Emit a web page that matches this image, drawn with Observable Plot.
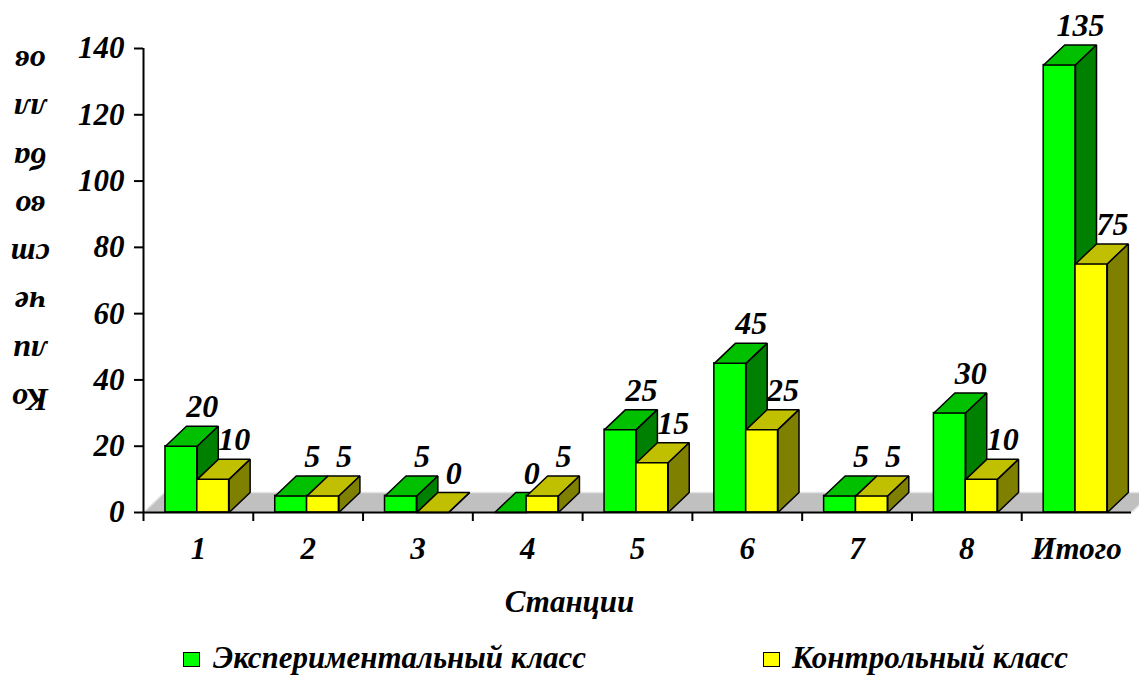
<!DOCTYPE html>
<html><head><meta charset="utf-8">
<script src="https://cdn.jsdelivr.net/npm/d3@7"></script>
<script src="https://cdn.jsdelivr.net/npm/@observablehq/plot@0.6"></script>
<style>
html,body{margin:0;padding:0;background:#fff;overflow:hidden;}
#wrap{position:relative;width:1139px;height:677px;font-family:"Liberation Serif","Times New Roman","DejaVu Serif",serif;font-weight:bold;font-style:italic;color:#000;}
#ylab div{position:absolute;left:6px;width:48px;height:30px;text-align:center;font-size:32px;line-height:30px;transform:rotate(180deg);}
#xtitle{position:absolute;left:0;top:580px;width:1139px;height:44px;line-height:44px;font-size:31px;text-align:center;}
.lg{position:absolute;top:642px;font-size:31px;line-height:32px;white-space:nowrap;}
.sw{position:absolute;top:652px;width:15px;height:13px;border:1.5px solid #000;}
</style></head>
<body><div id="wrap"><div id="chart"></div><div id="ylab"></div><div id="xtitle"></div><div id="legend"></div></div>
<script>
const categories = ["1","2","3","4","5","6","7","8","Итого"];
const experimental = [20,5,5,0,25,45,5,30,135];
const control = [10,5,0,5,15,25,5,10,75];
const seriesNames = ["Экспериментальный класс","Контрольный класс"];
const yTicks = [0,20,40,60,80,100,120,140];
const yLabelChunks = ["Ко","ли","че","ст","во","ба","лл","ов"];
const xTitle = "Станции";

const W = 1139, H = 580, mL = 143, mR = 8, mT = 48, mB = 68;
const xMax = categories.length;
const yMax = 140;
const kx = xMax / (W - mL - mR), ky = yMax / (H - mT - mB);
const depthX = 21 * kx, depthY = 20 * ky;
const pad = 0.2, bw = 0.29;

const series = [
  {values: experimental, front: "#00ff00", top: "#00c000", side: "#008000"},
  {values: control, front: "#ffff00", top: "#c0c000", side: "#808000"}
];

function poly(rows, f) {
  return rows.flatMap(r => { const p = f(r); p.push(p[0]); return p.map(([x, y]) => ({id: r.i, x, y})); });
}

const marks = [];
marks.push(Plot.line(poly([{i: 0}], () => [[0, 0], [xMax, 0], [xMax + depthX, depthY], [depthX, depthY]]),
  {x: "x", y: "y", z: "id", fill: "#c0c0c0", stroke: "#e4e4e4", strokeWidth: 1.5}));

const labelRows = [];
series.forEach((s, si) => {
  const rows = s.values.map((v, i) => { const x1 = i + pad + si * bw; return {i, v, x1, x2: x1 + bw, si}; });
  labelRows.push(...rows);
  marks.push(Plot.rect(rows, {x1: "x1", x2: "x2", y1: 0, y2: "v", fill: s.front, stroke: "black", strokeWidth: 1.5}));
  marks.push(Plot.line(poly(rows, r => [[r.x1, r.v], [r.x2, r.v], [r.x2 + depthX, r.v + depthY], [r.x1 + depthX, r.v + depthY]]),
    {x: "x", y: "y", z: "id", fill: s.top, stroke: "black", strokeWidth: 1.5, strokeLinejoin: "miter"}));
  marks.push(Plot.line(poly(rows, r => [[r.x2, 0], [r.x2 + depthX, depthY], [r.x2 + depthX, r.v + depthY], [r.x2, r.v]]),
    {x: "x", y: "y", z: "id", fill: s.side, stroke: "black", strokeWidth: 1.5, strokeLinejoin: "miter"}));
});

marks.push(Plot.text(labelRows, {
  x: r => (r.x1 + r.x2) / 2 + depthX, y: r => r.v + depthY, text: r => String(r.v),
  lineAnchor: "bottom", dy: -9, fontSize: 32, fill: "black"
}));

marks.push(Plot.ruleY([0], {x1: 0, x2: xMax, strokeWidth: 2}));
marks.push(Plot.ruleX([0], {y1: 0, y2: yMax, strokeWidth: 2}));
marks.push(Plot.axisY({ticks: yTicks, tickSize: 9, tickPadding: 10, strokeWidth: 2, label: null, fontSize: 31, tickFormat: d => String(d)}));
marks.push(Plot.axisX({ticks: d3.range(xMax), tickSize: 9, strokeWidth: 2, label: null, tickFormat: () => ""}));
marks.push(Plot.text(categories, {x: (d, i) => i + 0.5, y: 0, dy: 37, text: d => d, fontSize: 31, fill: "black"}));

const chart = Plot.plot({
  width: W, height: H,
  marginLeft: mL, marginRight: mR, marginTop: mT, marginBottom: mB,
  x: {type: "linear", domain: [0, xMax]},
  y: {type: "linear", domain: [0, yMax]},
  style: {fontFamily: "'Liberation Serif', 'Times New Roman', 'DejaVu Serif', serif", fontWeight: "bold", fontStyle: "italic", fontSize: "28px", color: "black", background: "white", overflow: "visible"},
  marks
});
document.getElementById("chart").appendChild(chart);

const ylab = document.getElementById("ylab");
yLabelChunks.forEach((c, i) => {
  const d = document.createElement("div");
  d.textContent = c;
  d.style.top = (400 - i * 48.3 - 15) + "px";
  ylab.appendChild(d);
});
document.getElementById("xtitle").textContent = xTitle;

const legend = document.getElementById("legend");
const lgPos = [[183, 213], [763, 792]];
seriesNames.forEach((n, i) => {
  const sw = document.createElement("div");
  sw.className = "sw"; sw.style.left = lgPos[i][0] + "px"; sw.style.background = series[i].front;
  const t = document.createElement("div");
  t.className = "lg"; t.style.left = lgPos[i][1] + "px"; t.textContent = n;
  legend.appendChild(sw); legend.appendChild(t);
});
</script></body></html>
